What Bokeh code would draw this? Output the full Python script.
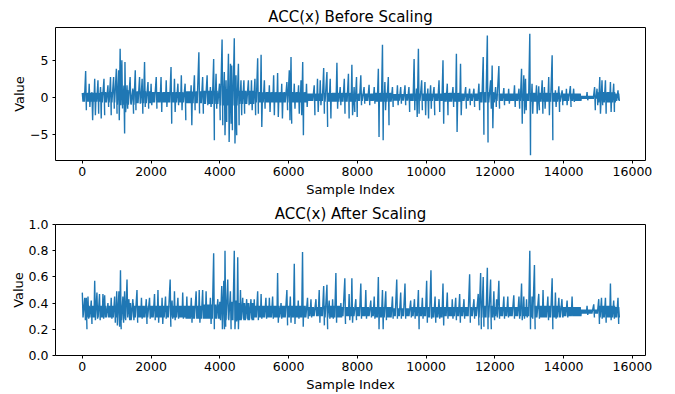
from bokeh.plotting import figure
from bokeh.layouts import column
from bokeh.models import Range1d, FixedTicker, CustomJSTickFormatter, NumeralTickFormatter
from bokeh.embed import file_html
from bokeh.resources import INLINE

# ---------------- data ----------------
N_SAMPLES = 15600
SEG = 500  # width of a core-band segment, samples

# Before scaling: spikes (sample index, upper value, lower value)
top_pos = [97, 200, 280, 360, 455, 530, 630, 745, 820, 910, 990, 1055, 1100, 1150, 1210, 1240,
           1300, 1390, 1470, 1540, 1665, 1740, 1810, 1910, 2000, 2150, 2290, 2440, 2580, 2680,
           2780, 2880, 2990, 3165, 3260, 3390, 3500, 3630, 3725, 3820, 3890, 3990, 4065, 4130,
           4180, 4250, 4310, 4345, 4420, 4470, 4540, 4615, 4700, 4830, 4920, 5020, 5100, 5200,
           5295, 5440, 5565, 5680, 5800, 5950, 6020, 6070, 6165, 6290, 6360, 6410, 6520, 6745,
           6840, 6920, 7020, 7115, 7210, 7405, 7500, 7620, 7740, 7840, 7905, 7975, 8100, 8195,
           8340, 8490, 8610, 8730, 8800, 8900, 9020, 9165, 9260, 9385, 9500, 9650, 9720, 9775,
           9870, 9965, 10050, 10130, 10230, 10375, 10490, 10615, 10780, 10880, 11000, 11150,
           11265, 11390, 11535, 11660, 11780, 11875, 11920, 12020, 12115, 12260, 12400, 12570,
           12700, 12775, 12840, 12890, 13015, 13080, 13210, 13275, 13375, 13440, 13565, 13665,
           13760, 13860, 13955, 14080, 14195, 14290, 14680, 14900, 14970, 15050, 15115, 15215,
           15360, 15455, 15580]
top_hi = [3.56, 1.85, 0.7, 2.52, 2.30, 1.40, 2.52, 1.62, 2.75, 2.75, 3.87, 3.65, 6.58, 5.0, 1.6, 4.77,
          1.62, 2.75, 1.2, 3.65, 2.75, 2.52, 4.77, 2.07, 1.85, 2.75, 2.75, 2.30, 4.1, 2.52,
          1.85, 2.97, 1.85, 1.62, 2.97, 6.1, 2.75, 2.97, 1.4, 5.2, 3.2, 1.85, 7.84, 3.42,
          2.3, 5.9, 4.55, 4.32, 8.0, 2.97, 4.55, 2.3, 2.3, 2.3, 2.3, 2.52, 5.3, 5.77,
          2.3, 1.62, 2.97, 3.29, 1.85, 2.07, 3.65, 5.45, 1.85, 1.62, 2.3, 4.77, 1.85, 1.62,
          2.52, 2.3, 3.96, 3.42, 2.52, 4.68, 1.4, 2.52, 3.2, 4.4, 1.4, 2.75, 2.97, 1.4,
          1.7, 1.4, 3.87, 7.12, 2.07, 2.75, 1.4, 1.62, 1.4, 1.62, 1.4, 5.2, 1.2, 6.58,
          2.3, 2.07, 1.2, 1.62, 1.4, 2.3, 5.0, 1.85, 1.4, 5.9, 4.55, 1.4,
          1.17, 1.17, 1.85, 5.45, 8.38, 2.3, 4.3, 1.4, 4.23, 1.26, 1.17, 1.62,
          1.17, 3.87, 2.97, 2.52, 8.6, 1.85, 1.62, 1.49, 2.3, 1.4, 2.75, 5.68,
          0.95, 1.49, 0.95, 1.17, 1.53, 1.17, 0.72, 1.4, 1.17, 2.75, 2.3, 2.3,
          2.07, 1.85, 0.95]
top_lo = [-1.76, -1.31, -3.1, -2.43, -2.21, -2.88, -2.43, -1.31, -2.43, -1.53, -2.21, -3.11, -1.08, -1.5, -4.91, -2.0,
          -1.53, -0.86, -2.21, -1.76, -0.86, -2.21, -1.3, -1.53, -1.08, -1.53, -1.98, -1.31, -3.56, -1.98,
          -1.08, -1.76, -3.11, -3.78, -1.76, -2.2, -2.21, -1.08, -1.3, -5.8, -1.53, -3.11, -3.78, -5.14,
          -3.33, -6.04, -3.56, -4.46, -6.26, -5.14, -3.78, -2.43, -2.21, -1.08, -1.76, -2.43, -2.21, -4.0,
          -1.53, -1.98, -2.43, -2.66, -2.88, -1.76, -3.11, -3.56, -1.53, -2.21, -2.43, -5.14, -1.3, -2.43,
          -1.98, -1.08, -2.21, -4.0, -2.88, -1.53, -1.08, -2.21, -2.88, -2.43, -1.98, -2.66, -1.08, -0.86,
          -1.08, -0.86, -5.36, -5.81, -1.76, -3.78, -1.3, -1.08, -0.86, -1.08, -1.98, -1.76, -2.66, -2.21,
          -1.76, -2.43, -2.88, -1.53, -2.43, -1.98, -3.56, -2.43, -1.3, -4.68, -2.43, -1.53,
          -1.08, -1.3, -1.76, -5.05, -6.13, -1.53, -4.2, -1.3, -1.53, -1.08, -0.86, -1.3,
          -1.53, -3.56, -2.21, -1.76, -7.84, -2.21, -2.21, -1.76, -2.21, -1.53, -2.43, -5.81,
          -1.3, -1.98, -1.08, -1.08, -1.3, -0.63, -0.4, -1.76, -1.08, -2.21, -1.08, -2.21,
          -1.98, -1.98, -0.4]
# Before scaling: half-width of the dense core band per 500-sample segment
top_core = [0.6, 0.7, 1.0, 0.8, 0.7, 0.7, 0.8, 0.9, 1.1, 0.9, 0.7, 0.7, 0.7, 0.5, 0.6, 0.6,
            0.5, 0.6, 0.45, 0.5, 0.5, 0.6, 0.5, 0.7, 0.5, 0.5, 0.6, 0.6, 0.5, 0.2, 0.7, 0.5]

# After scaling: spikes (sample index, upper value, lower value)
bot_pos = [0, 70, 115, 165, 260, 360, 425, 500, 600, 650, 745, 840, 940, 1000, 1065, 1110,
           1180, 1230, 1300, 1355, 1470, 1590, 1720, 1860, 1955, 2100, 2200, 2320, 2420, 2555,
           2610, 2680, 2780, 2920, 3040, 3170, 3310, 3400, 3500, 3600, 3725, 3820, 3940, 4055,
           4115, 4150, 4230, 4307, 4420, 4470, 4520, 4600, 4665, 4780, 4905, 5000, 5100, 5200,
           5340, 5440, 5535, 5680, 5780, 5950, 6050, 6165, 6280, 6405, 6550, 6650, 6795, 6890,
           7020, 7115, 7180, 7280, 7375, 7520, 7635, 7760, 7840, 7955, 8100, 8245, 8390, 8490,
           8610, 8730, 8825, 9020, 9145, 9260, 9385, 9550, 9660, 9775, 9890, 10015, 10140, 10260,
           10375, 10490, 10615, 10760, 10860, 10975, 11100, 11265, 11390, 11515, 11585, 11660,
           11780, 11875, 11970, 12050, 12115, 12260, 12375, 12550, 12700, 12775, 12840, 12920,
           13015, 13080, 13150, 13275, 13400, 13540, 13665, 13760, 13860, 13950, 14100, 14245,
           14680, 14875, 15020, 15100, 15215, 15360, 15455, 15580]
bot_hi = [0.48, 0.44, 0.44, 0.45, 0.42, 0.57, 0.48, 0.47, 0.47, 0.46, 0.40, 0.44, 0.45, 0.49, 0.49, 0.65,
          0.45, 0.49, 0.58, 0.43, 0.43, 0.50, 0.44, 0.43, 0.44, 0.47, 0.50, 0.44, 0.45, 0.58,
          0.42, 0.49, 0.44, 0.48, 0.45, 0.44, 0.49, 0.50, 0.50, 0.49, 0.44, 0.78, 0.43, 0.53,
          0.57, 0.80, 0.58, 0.49, 0.80, 0.42, 0.75, 0.50, 0.44, 0.43, 0.43, 0.43, 0.49, 0.47,
          0.44, 0.44, 0.45, 0.63, 0.40, 0.50, 0.45, 0.70, 0.42, 0.79, 0.44, 0.43, 0.43, 0.50,
          0.53, 0.54, 0.42, 0.43, 0.63, 0.40, 0.59, 0.47, 0.59, 0.43, 0.55, 0.50, 0.42, 0.45,
          0.60, 0.50, 0.49, 0.45, 0.58, 0.48, 0.55, 0.42, 0.43, 0.50, 0.44, 0.57, 0.65, 0.45,
          0.43, 0.55, 0.48, 0.43, 0.44, 0.47, 0.43, 0.62, 0.43, 0.47, 0.63, 0.60,
          0.67, 0.58, 0.49, 0.43, 0.57, 0.45, 0.45, 0.46, 0.45, 0.55, 0.45, 0.43,
          0.80, 0.45, 0.69, 0.47, 0.50, 0.45, 0.59, 0.48, 0.44, 0.43, 0.42, 0.45,
          0.38, 0.39, 0.43, 0.44, 0.44, 0.55, 0.42, 0.44]
bot_lo = [0.29, 0.27, 0.20, 0.28, 0.24, 0.27, 0.28, 0.27, 0.28, 0.29, 0.29, 0.28, 0.25, 0.23, 0.22, 0.20,
          0.25, 0.28, 0.29, 0.28, 0.29, 0.25, 0.28, 0.24, 0.28, 0.27, 0.25, 0.24, 0.28, 0.22,
          0.28, 0.27, 0.28, 0.28, 0.28, 0.25, 0.28, 0.25, 0.28, 0.28, 0.24, 0.20, 0.28, 0.20,
          0.20, 0.22, 0.28, 0.20, 0.20, 0.26, 0.20, 0.27, 0.28, 0.28, 0.28, 0.29, 0.27, 0.28,
          0.28, 0.29, 0.28, 0.25, 0.28, 0.23, 0.25, 0.24, 0.28, 0.22, 0.28, 0.29, 0.30, 0.25,
          0.23, 0.20, 0.28, 0.28, 0.25, 0.29, 0.24, 0.27, 0.25, 0.27, 0.28, 0.28, 0.29, 0.28,
          0.20, 0.20, 0.27, 0.28, 0.28, 0.28, 0.28, 0.29, 0.28, 0.20, 0.28, 0.25, 0.28, 0.25,
          0.28, 0.23, 0.28, 0.28, 0.27, 0.25, 0.28, 0.25, 0.28, 0.23, 0.20, 0.22,
          0.20, 0.20, 0.27, 0.29, 0.28, 0.28, 0.29, 0.28, 0.28, 0.27, 0.28, 0.29,
          0.20, 0.28, 0.20, 0.28, 0.29, 0.27, 0.20, 0.28, 0.29, 0.29, 0.29, 0.30,
          0.31, 0.29, 0.24, 0.28, 0.25, 0.27, 0.28, 0.24]
# After scaling: upper / lower edge of the dense core band per 500-sample segment
bot_core_hi = [0.38, 0.38, 0.40, 0.38, 0.38, 0.38, 0.38, 0.39, 0.41, 0.40, 0.38, 0.38, 0.38, 0.37, 0.38, 0.37,
               0.37, 0.37, 0.36, 0.37, 0.37, 0.37, 0.37, 0.38, 0.37, 0.37, 0.38, 0.38, 0.37, 0.35, 0.38, 0.37]
bot_core_lo = [0.29, 0.29, 0.27, 0.29, 0.29, 0.29, 0.28, 0.28, 0.27, 0.27, 0.29, 0.29, 0.29, 0.30, 0.29, 0.30,
               0.30, 0.29, 0.30, 0.30, 0.29, 0.30, 0.30, 0.29, 0.30, 0.30, 0.29, 0.29, 0.30, 0.32, 0.29, 0.29]

x_ticks = [0, 2000, 4000, 6000, 8000, 10000, 12000, 14000, 16000]
top_y_ticks = [-5, 0, 5]
bot_y_ticks = [0.0, 0.2, 0.4, 0.6, 0.8, 1.0]


def build_trace(pos, hi, lo, core_hi, core_lo, step=40):
    spikes = {}
    for p, h, l in zip(pos, hi, lo):
        spikes[p // step] = (p, h, l)
    xs, ys = [], []
    for i in range(N_SAMPLES // step + 1):
        x0 = i * step
        if i in spikes:
            p, h, l = spikes[i]
            xs += [p, p + step / 2]
            ys += [h, l]
        else:
            seg = min(x0 // SEG, len(core_hi) - 1)
            xs += [x0, x0 + step / 2]
            ys += [core_hi[seg], core_lo[seg]]
    return xs, ys


top_x, top_y = build_trace(top_pos, top_hi, top_lo, top_core, [-c for c in top_core])
bot_x, bot_y = build_trace(bot_pos, bot_hi, bot_lo, bot_core_hi, bot_core_lo)

BLUE = "#1f77b4"
FONT = "DejaVu Sans"


def style(p, yticks, yfmt):
    p.title.text_font = FONT
    p.title.text_font_size = "15px"
    p.title.text_font_style = "normal"
    p.title.text_color = "black"
    p.title.align = "center"
    p.title.standoff = 4
    p.grid.visible = False
    p.outline_line_color = "black"
    p.outline_line_width = 1
    for ax in (p.xaxis[0], p.yaxis[0]):
        ax.axis_line_color = None
        ax.major_tick_line_color = "black"
        ax.major_tick_in = 0
        ax.major_tick_out = 3
        ax.minor_tick_line_color = None
        ax.major_label_text_font = FONT
        ax.major_label_text_font_size = "12.5px"
        ax.major_label_text_color = "black"
        ax.axis_label_text_font = FONT
        ax.axis_label_text_font_size = "13px"
        ax.axis_label_text_font_style = "normal"
        ax.axis_label_text_color = "black"
    p.xaxis.major_label_standoff = 3
    p.xaxis.axis_label_standoff = 3
    p.yaxis.major_label_standoff = 4
    p.yaxis.axis_label_standoff = 0
    p.xaxis.ticker = FixedTicker(ticks=x_ticks)
    p.yaxis.ticker = FixedTicker(ticks=yticks)
    p.yaxis.formatter = yfmt
    p.xaxis.axis_label = "Sample Index"
    p.yaxis.axis_label = "Value"


p1 = figure(width=675, height=200, output_backend="svg", toolbar_location=None,
            x_range=Range1d(-780, 16380), y_range=Range1d(-8.55, 9.45), title="ACC(x) Before Scaling",
            min_border_left=55, min_border_right=30, min_border_top=27, min_border_bottom=40)
p1.line(top_x, top_y, line_color=BLUE, line_width=1.4)
style(p1, top_y_ticks, CustomJSTickFormatter(
    code="return tick < 0 ? '\u2212' + Math.abs(tick) : tick.toString();"))

p2 = figure(width=675, height=194, output_backend="svg", toolbar_location=None,
            x_range=Range1d(-780, 16380), y_range=Range1d(0, 1.0), title="ACC(x) After Scaling",
            min_border_left=55, min_border_right=30, min_border_top=24, min_border_bottom=37)
p2.line(bot_x, bot_y, line_color=BLUE, line_width=1.4)
style(p2, bot_y_ticks, NumeralTickFormatter(format="0.0"))

layout = column(p1, p2, spacing=0)
open("out.html", "w").write(file_html(layout, INLINE))
